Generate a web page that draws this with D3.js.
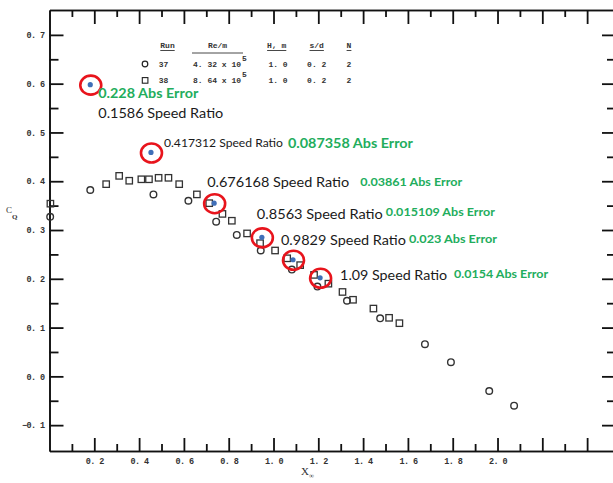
<!DOCTYPE html>
<html>
<head>
<meta charset="utf-8">
<script src="https://cdnjs.cloudflare.com/ajax/libs/d3/7.8.5/d3.min.js"></script>
<style>
  body { margin: 0; background: #fff; }
  .axis path, .axis line { stroke: #111; }
  .axis path { stroke-width: 1.6; }
  .axis text { font-family: "Liberation Mono", monospace; font-weight: bold; font-size: 8.5px; letter-spacing: -0.6px; fill: #333; }
  .legend text { font-family: "Liberation Mono", monospace; font-weight: bold; font-size: 8px; fill: #333; }
</style>
</head>
<body>
<div id="chart"></div>
<script>
// run 37 (circles)
var run37X = [0.003, 0.182, 0.464, 0.620, 0.744, 0.836, 0.943, 1.082, 1.196, 1.328, 1.476, 1.676, 1.792, 1.963, 2.074];
var run37Y = [0.327, 0.382, 0.373, 0.360, 0.317, 0.290, 0.258, 0.219, 0.184, 0.155, 0.119, 0.066, 0.029, -0.030, -0.060];
// run 38 (squares)
var run38X = [0.004, 0.253, 0.311, 0.356, 0.410, 0.444, 0.487, 0.531, 0.579, 0.658, 0.713, 0.772, 0.814, 0.882, 0.940,
              1.007, 1.061, 1.119, 1.181, 1.245, 1.308, 1.355, 1.446, 1.516, 1.562];
var run38Y = [0.354, 0.394, 0.411, 0.401, 0.404, 0.404, 0.407, 0.407, 0.394, 0.373, 0.355, 0.333, 0.319, 0.293, 0.273,
              0.258, 0.242, 0.228, 0.208, 0.190, 0.173, 0.157, 0.139, 0.120, 0.109];

// highlighted predictions
var markX = [0.182, 0.453, 0.735, 0.948, 1.087, 1.208];
var markY = [0.598, 0.459, 0.355, 0.285, 0.239, 0.202];
var speedRatios = ["0.1586", "0.417312", "0.676168", "0.8563", "0.9829", "1.09"];
var absErrors = ["0.228", "0.087358", "0.03861", "0.015109", "0.023", "0.0154"];

// legend table
var legendHeads = ["Run", "Re/m", "H, m", "s/d", "N"];
var legendRuns = ["37", "38"];
var legendRe = ["4. 32 x 10", "8. 64 x 10"];
var legendH = ["1. 0", "1. 0"];
var legendSd = ["0. 2", "0. 2"];
var legendN = ["2", "2"];

var w = 613;
var h = 483;

var svg = d3.select("#chart")
  .append("svg")
  .attr("width", w)
  .attr("height", h);

var xScale = d3.scaleLinear().domain([0, 2.52]).range([49.5, 614]);
var yScale = d3.scaleLinear().domain([-0.153, 0.751]).range([451, 10]);

function fmt(v) {
  return d3.format(".1f")(v).replace(".", ". ");
}
function steps(a, n, s) {
  return d3.range(n).map(function(i) { return Math.round((a + i * s) * 100) / 100; });
}

var xMajor = steps(0.2, 12, 0.2);
var xMinor = steps(0.1, 12, 0.2);
var yMajor = steps(-0.1, 9, 0.1);
var yMinor = steps(-0.05, 8, 0.1);

//bottom axis
svg.append("g").attr("class", "axis")
  .attr("transform", "translate(0,451)")
  .call(d3.axisBottom(xScale).tickValues(xMinor).tickSize(-7).tickSizeOuter(0).tickFormat(""));
svg.append("g").attr("class", "axis")
  .attr("transform", "translate(0,451)")
  .call(d3.axisBottom(xScale).tickValues(xMajor).tickSize(-13).tickSizeOuter(0).tickPadding(7)
    .tickFormat(function(d) { return d > 2.05 ? "" : fmt(d); }));

//top axis
svg.append("g").attr("class", "axis")
  .attr("transform", "translate(0,10)")
  .call(d3.axisTop(xScale).tickValues(xMinor).tickSize(-7).tickSizeOuter(0).tickFormat(""));
svg.append("g").attr("class", "axis")
  .attr("transform", "translate(0,10)")
  .call(d3.axisTop(xScale).tickValues(xMajor).tickSize(-14).tickSizeOuter(0).tickFormat(""));

//left axis
svg.append("g").attr("class", "axis")
  .attr("transform", "translate(49.5,0)")
  .call(d3.axisLeft(yScale).tickValues(yMinor).tickSize(-9).tickSizeOuter(0).tickFormat(""));
svg.append("g").attr("class", "axis")
  .attr("transform", "translate(49.5,0)")
  .call(d3.axisLeft(yScale).tickValues(yMajor).tickSize(-14).tickSizeOuter(0).tickPadding(5).tickFormat(fmt));

//right axis
svg.append("g").attr("class", "axis")
  .attr("transform", "translate(614,0)")
  .call(d3.axisRight(yScale).tickValues(yMinor).tickSize(-7).tickSizeOuter(0).tickFormat(""));
svg.append("g").attr("class", "axis")
  .attr("transform", "translate(614,0)")
  .call(d3.axisRight(yScale).tickValues(yMajor).tickSize(-12).tickSizeOuter(0).tickFormat(""));

svg.selectAll(".axis .tick line").attr("stroke-width", 1.8);

//axis titles
var cq = svg.append("text")
  .attr("x", 6).attr("y", 213)
  .attr("font-family", "Liberation Serif").attr("font-size", 9).attr("fill", "#333");
cq.append("tspan").text("C");
cq.append("tspan").attr("dy", 6).attr("font-size", 7).attr("font-weight", "bold").text("Q");

var xl = svg.append("text")
  .attr("x", 301).attr("y", 475)
  .attr("font-family", "Liberation Serif").attr("font-size", 11).attr("fill", "#333");
xl.append("tspan").text("X");
xl.append("tspan").attr("dy", 3).attr("font-size", 7).text("\u221E");

//data markers
svg.selectAll("circle.r37")
  .data(run37X)
  .enter()
  .append("circle")
  .attr("class", "r37")
  .attr("cx", function(d) { return xScale(d); })
  .attr("cy", function(d, i) { return yScale(run37Y[i]); })
  .attr("r", 3.3)
  .attr("fill", "none")
  .attr("stroke", "#333")
  .attr("stroke-width", 1.4);

svg.selectAll("rect.r38")
  .data(run38X)
  .enter()
  .append("rect")
  .attr("class", "r38")
  .attr("x", function(d) { return xScale(d) - 3.2; })
  .attr("y", function(d, i) { return yScale(run38Y[i]) - 3.2; })
  .attr("width", 6.4)
  .attr("height", 6.4)
  .attr("fill", "none")
  .attr("stroke", "#333")
  .attr("stroke-width", 1.3);

//legend
var lg = svg.append("g").attr("class", "legend");
var headX = [167.5, 217.5, 276.7, 316.7, 349];
lg.selectAll("text.head")
  .data(legendHeads)
  .enter()
  .append("text")
  .attr("class", "head")
  .attr("x", function(d, i) { return headX[i]; })
  .attr("y", 48)
  .attr("text-anchor", "middle")
  .text(function(d) { return d; });
lg.selectAll("line.under")
  .data(legendHeads)
  .enter()
  .append("line")
  .attr("x1", function(d, i) { return i == 1 ? 192 : headX[i] - d.length * 2.4; })
  .attr("x2", function(d, i) { return i == 1 ? 243 : headX[i] + d.length * 2.4; })
  .attr("y1", function(d, i) { return i == 1 ? 53 : 50.5; })
  .attr("y2", function(d, i) { return i == 1 ? 53 : 50.5; })
  .attr("stroke", "#333")
  .attr("stroke-width", 0.9);

var rowY = [67, 83.3];
lg.append("circle").attr("cx", 145).attr("cy", rowY[0] - 3).attr("r", 2.8)
  .attr("fill", "none").attr("stroke", "#222").attr("stroke-width", 1.2);
lg.append("rect").attr("x", 142.3).attr("y", rowY[1] - 5.7).attr("width", 5.6).attr("height", 5.6)
  .attr("fill", "none").attr("stroke", "#222").attr("stroke-width", 1.1);

legendRuns.forEach(function(r, i) {
  lg.append("text").attr("x", 163.5).attr("y", rowY[i]).attr("text-anchor", "middle").text(r);
  lg.append("text").attr("x", 193).attr("y", rowY[i]).text(legendRe[i]);
  lg.append("text").attr("x", 242).attr("y", rowY[i] - 6).attr("font-size", 7).text("5");
  lg.append("text").attr("x", 278).attr("y", rowY[i]).attr("text-anchor", "middle").text(legendH[i]);
  lg.append("text").attr("x", 316.7).attr("y", rowY[i]).attr("text-anchor", "middle").text(legendSd[i]);
  lg.append("text").attr("x", 349).attr("y", rowY[i]).attr("text-anchor", "middle").text(legendN[i]);
});

//highlighted points
svg.selectAll("ellipse.ring")
  .data(markX)
  .enter()
  .append("ellipse")
  .attr("class", "ring")
  .attr("cx", function(d) { return xScale(d) + 0.5; })
  .attr("cy", function(d, i) { return yScale(markY[i]) + 0.5; })
  .attr("rx", 10.5)
  .attr("ry", 9.5)
  .attr("fill", "none")
  .attr("stroke", "#e8141c")
  .attr("stroke-width", 2.6);

svg.selectAll("circle.pred")
  .data(markX)
  .enter()
  .append("circle")
  .attr("class", "pred")
  .attr("cx", function(d) { return xScale(d); })
  .attr("cy", function(d, i) { return yScale(markY[i]); })
  .attr("r", 2.6)
  .attr("fill", "#3f6fb8");

// label layout: offsets from the highlighted point, font size and width
var labelPos = [
  { sx: 8,   sy: 33,  ss: 14,   sw: 125, gx: 8,   gy: 13,  gs: 12.5, gw: 100 },
  { sx: 13,  sy: -5,  ss: 11,   sw: 119, gx: 137, gy: -4,  gs: 12.5, gw: 125 },
  { sx: -7,  sy: -16, ss: 13.5, sw: 142, gx: 146, gy: -17, gs: 10.5, gw: 102 },
  { sx: -5,  sy: -18, ss: 14,   sw: 126, gx: 124, gy: -21, gs: 11.5, gw: 109 },
  { sx: -12, sy: -15, ss: 14,   sw: 125, gx: 116, gy: -17, gs: 11.5, gw: 88 },
  { sx: 20,  sy: 2,   ss: 14,   sw: 107, gx: 134, gy: 0,   gs: 11.5, gw: 94 }
];

svg.selectAll("text.speed")
  .data(speedRatios)
  .enter()
  .append("text")
  .attr("class", "speed")
  .attr("x", function(d, i) { return xScale(markX[i]) + labelPos[i].sx; })
  .attr("y", function(d, i) { return yScale(markY[i]) + labelPos[i].sy; })
  .attr("font-family", "Lato")
  .attr("font-size", function(d, i) { return labelPos[i].ss; })
  .attr("textLength", function(d, i) { return labelPos[i].sw; })
  .attr("lengthAdjust", "spacingAndGlyphs")
  .attr("fill", "#1a1a1a")
  .text(function(d) { return d + " Speed Ratio"; });

svg.selectAll("text.err")
  .data(absErrors)
  .enter()
  .append("text")
  .attr("class", "err")
  .attr("x", function(d, i) { return xScale(markX[i]) + labelPos[i].gx; })
  .attr("y", function(d, i) { return yScale(markY[i]) + labelPos[i].gy; })
  .attr("font-family", "Lato")
  .attr("font-weight", "bold")
  .attr("font-size", function(d, i) { return labelPos[i].gs; })
  .attr("textLength", function(d, i) { return labelPos[i].gw; })
  .attr("lengthAdjust", "spacingAndGlyphs")
  .attr("fill", "#22ad5c")
  .text(function(d) { return d + " Abs Error"; });
</script>
</body>
</html>
